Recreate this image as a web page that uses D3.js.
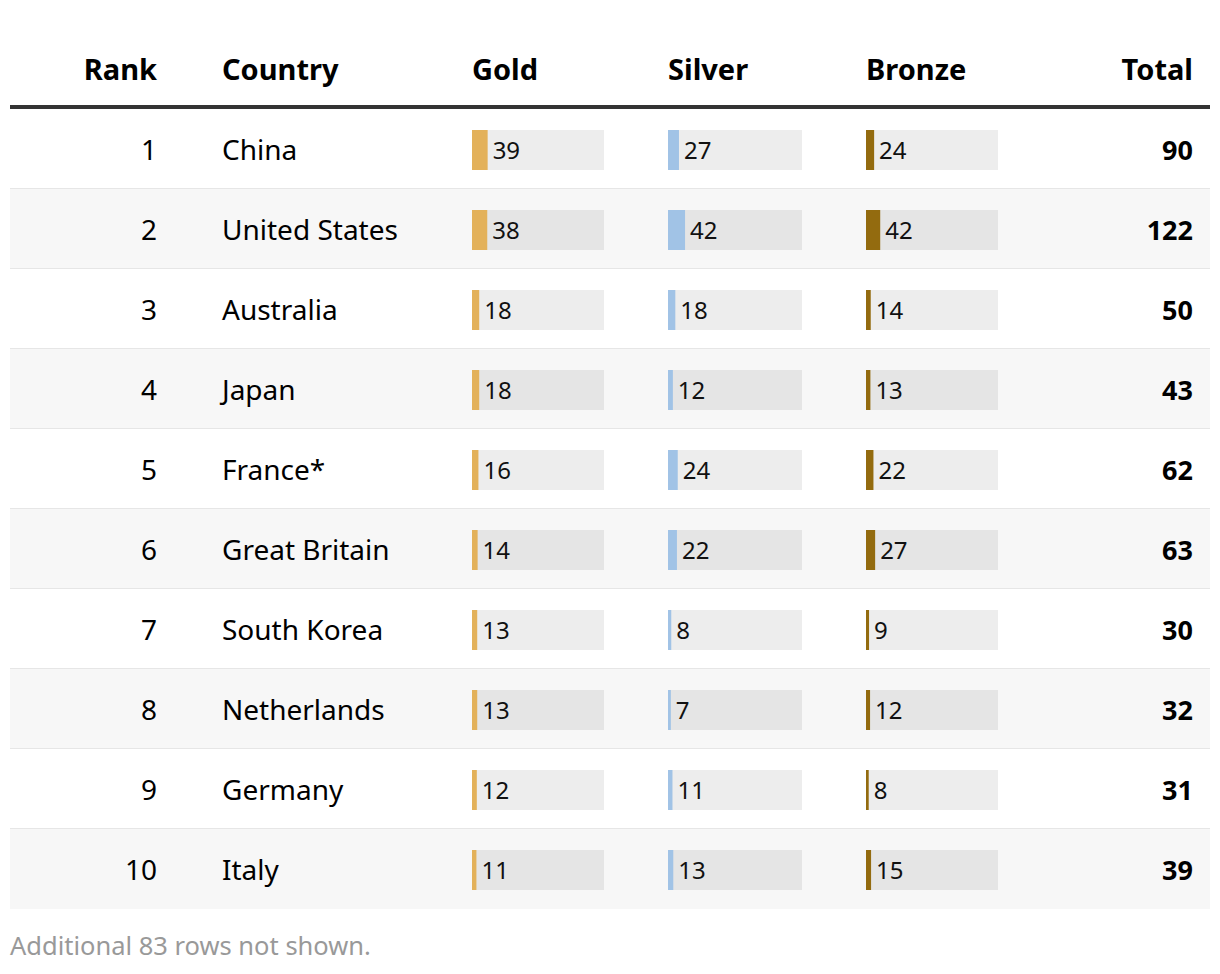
<!DOCTYPE html>
<html>
<head>
<meta charset="utf-8">
<script src="https://cdn.jsdelivr.net/npm/d3@7"></script>
<style>
  html, body { margin: 0; padding: 0; background: #fff; }
  svg { display: block; font-family: "Noto Sans", sans-serif; }
</style>
</head>
<body>
<svg id="chart" width="1220" height="974"></svg>
<script>
const ranks = [1, 2, 3, 4, 5, 6, 7, 8, 9, 10];
const countries = ["China", "United States", "Australia", "Japan", "France*", "Great Britain", "South Korea", "Netherlands", "Germany", "Italy"];
const gold = [39, 38, 18, 18, 16, 14, 13, 13, 12, 11];
const silver = [27, 42, 18, 12, 24, 22, 8, 7, 11, 13];
const bronze = [24, 42, 14, 13, 22, 27, 9, 12, 8, 15];
const totals = [90, 122, 50, 43, 62, 63, 30, 32, 31, 39];
const headers = ["Rank", "Country", "Gold", "Silver", "Bronze", "Total"];
const medalColors = ["#e3b15a", "#a1c3e6", "#936b0f"];
// column totals across all 93 countries (bar scale domain)
const columnTotals = [329, 330, 390];
const footnote = "Additional 83 rows not shown.";

const svg = d3.select("#chart");
const left = 10, right = 1210;
const headerLineY = 107;
const rowH = 80;
const top0 = 110;

const y = d3.scaleBand().domain(d3.range(ranks.length)).range([top0, top0 + rowH * ranks.length]).padding(0);

const colRankRight = 157;
const colCountry = 222;
const medalX = [472, 668, 866];
const medalW = [132, 134, 132];
const colTotalRight = 1193;

const scales = medalX.map((x0, i) => d3.scaleLinear().domain([0, columnTotals[i]]).range([0, medalW[i]]));

const rows = svg.append("g").selectAll("g").data(d3.range(ranks.length)).join("g")
  .attr("transform", i => `translate(0,${y(i)})`);
rows.append("rect").attr("x", left).attr("y", -1).attr("width", right - left).attr("height", rowH)
  .attr("fill", (d, i) => i % 2 === 1 ? "#f7f7f7" : "#ffffff");
rows.filter(i => i < ranks.length - 1).append("rect")
  .attr("x", left).attr("width", right - left).attr("y", rowH - 2).attr("height", 2)
  .attr("fill", "#e6e6e6");

const hg = svg.append("g").attr("font-weight", 700).attr("font-size", 29).attr("fill", "#000");
const headerX = [colRankRight, colCountry, medalX[0], medalX[1], medalX[2], colTotalRight];
const headerAnchor = ["end", "start", "start", "start", "start", "end"];
hg.selectAll("text").data(headers).join("text")
  .attr("x", (d, i) => headerX[i]).attr("y", 80)
  .attr("text-anchor", (d, i) => headerAnchor[i])
  .text(d => d);
svg.append("rect").attr("x", left).attr("width", right - left).attr("y", headerLineY - 2).attr("height", 4).attr("fill", "#333");

const midY = rowH / 2;
rows.append("text").attr("x", colRankRight).attr("y", midY).attr("dy", "0.36em")
  .attr("text-anchor", "end").attr("font-size", 28).text(i => ranks[i]);
rows.append("text").attr("x", colCountry).attr("y", midY).attr("dy", "0.36em")
  .attr("font-size", 28).text(i => countries[i]);

const medalData = [gold, silver, bronze];
medalData.forEach((arr, m) => {
  const g = rows.append("g");
  g.append("rect").attr("x", medalX[m]).attr("y", midY - 20).attr("width", medalW[m]).attr("height", 40)
    .attr("fill", "rgba(0,0,0,0.07)");
  g.append("rect").attr("x", medalX[m]).attr("y", midY - 20).attr("width", i => scales[m](arr[i])).attr("height", 40)
    .attr("fill", medalColors[m]);
  g.append("text").attr("x", i => medalX[m] + scales[m](arr[i]) + 5).attr("y", midY).attr("dy", "0.36em")
    .attr("font-size", 24).attr("fill", "#111").text(i => arr[i]);
});

rows.append("text").attr("x", colTotalRight).attr("y", midY).attr("dy", "0.36em")
  .attr("text-anchor", "end").attr("font-size", 27).attr("font-weight", 700).text(i => totals[i]);

svg.append("text").attr("x", left).attr("y", 955).attr("font-size", 25.5).attr("fill", "#999").text(footnote);
</script>
</body>
</html>
